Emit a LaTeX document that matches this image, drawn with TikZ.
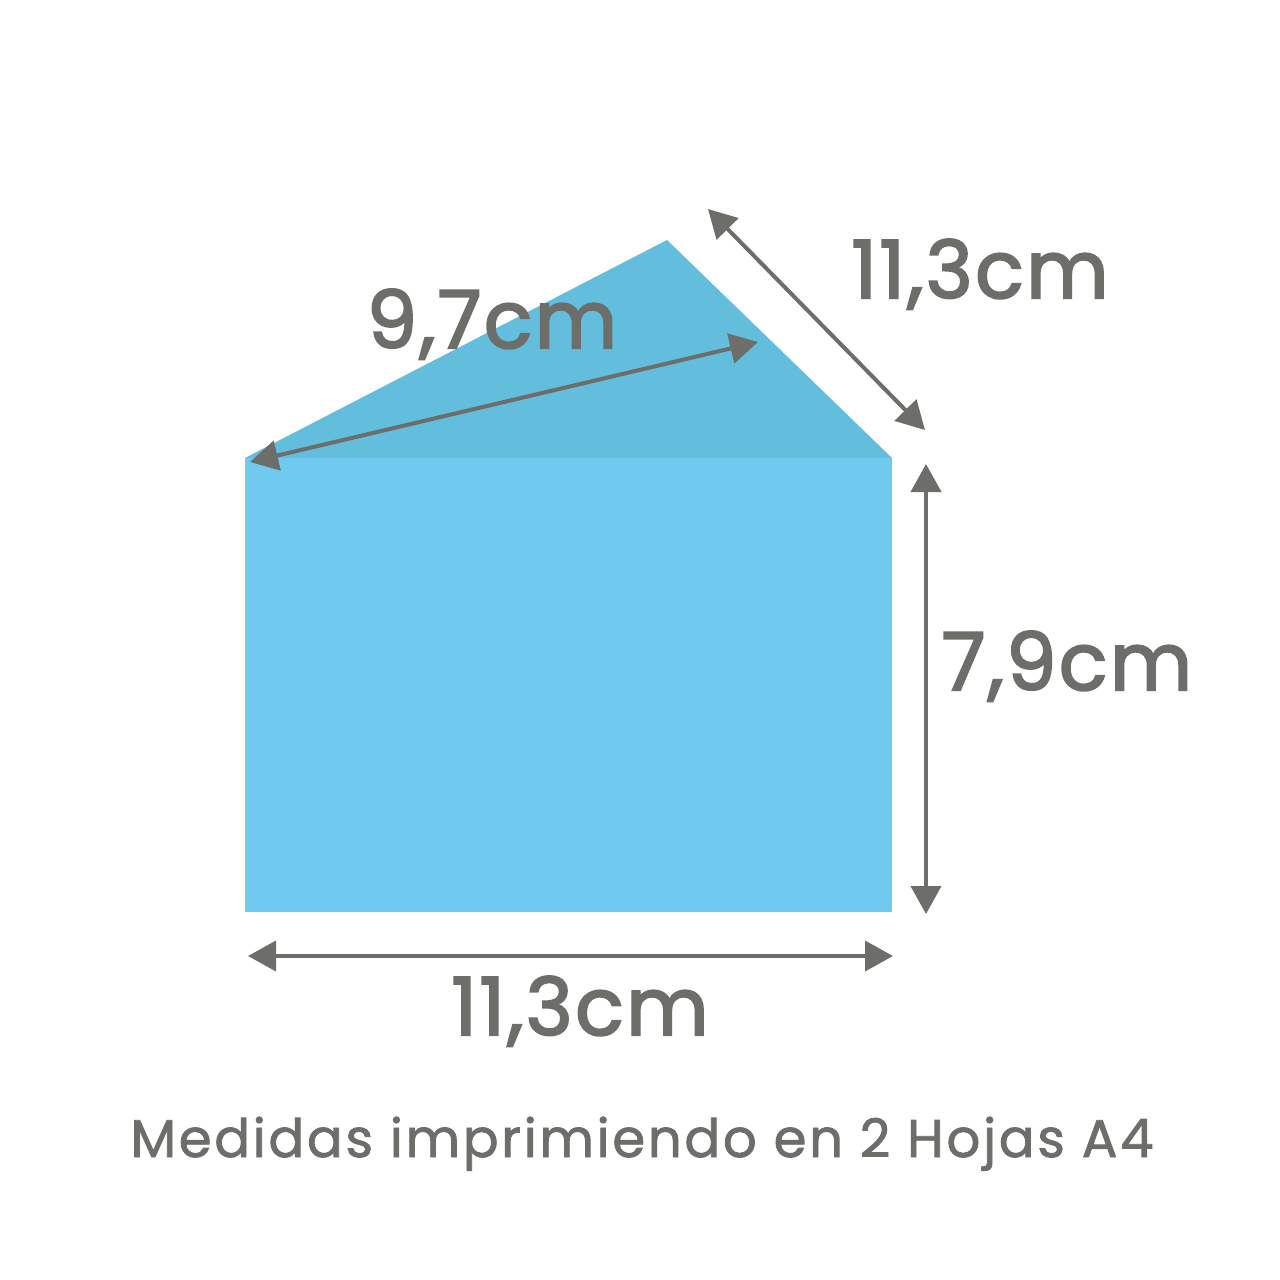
\documentclass[tikz,border=0pt]{standalone}
\usepackage{fontspec}
\usetikzlibrary{arrows.meta}
\newfontfamily\popfont[LetterSpace=3,FakeBold=2.5]{Poppins}
\newfontfamily\capfont[LetterSpace=5,FakeBold=1.5]{Poppins}
\definecolor{rectblue}{HTML}{70C9EF}
\definecolor{triblue}{HTML}{63BDDC}
\definecolor{dimgray}{HTML}{6D6E6A}
\tikzset{
  dimarrow/.style={draw=dimgray, line width=4pt, {Triangle[length=28pt,width=30pt]}-{Triangle[length=28pt,width=30pt]}},
  dimlabel/.style={text=dimgray, font=\popfont\fontsize{80}{80}\selectfont, anchor=base, inner sep=0pt},
  caption/.style={text=dimgray, font=\capfont\fontsize{53}{53}\selectfont, anchor=base, inner sep=0pt}
}
\begin{document}
\begin{tikzpicture}[x=1pt,y=-1pt]
\useasboundingbox (0,0) rectangle (1280,1280);
\fill[white] (0,0) rectangle (1280,1280);
% shapes
\fill[rectblue] (245,458) rectangle (892,912);
\fill[triblue] (245,458) -- (667,240) -- (892,458) -- cycle;
% coordinates
\coordinate (inA) at (250,462);
\coordinate (inB) at (758,342);
\coordinate (dgA) at (708,209);
\coordinate (dgB) at (925,430);
\coordinate (vtA) at (926,464);
\coordinate (vtB) at (926,914);
\coordinate (hzA) at (248,956);
\coordinate (hzB) at (893,956);
% arrows
\draw[dimarrow] (inA) -- (inB);
\draw[dimarrow] (dgA) -- (dgB);
\draw[dimarrow] (vtA) -- (vtB);
\draw[dimarrow] (hzA) -- (hzB);
% labels
\node[dimlabel] (ldg) at (980,298) {11,3cm};
\node[dimlabel] (lin) at (492,348) {9,7cm};
\node[dimlabel] (lvt) at (1067,690) {7,9cm};
\node[dimlabel] (lhz) at (580,1035) {11,3cm};
\node[caption] (cap) at (642,1157) {Medidas imprimiendo en 2 Hojas A4};
\end{tikzpicture}
\end{document}
